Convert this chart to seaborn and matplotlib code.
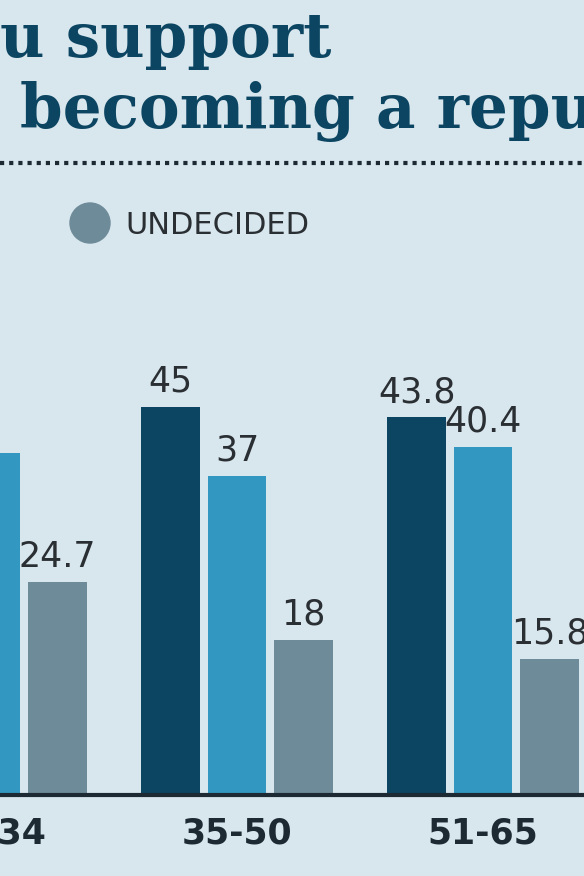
import matplotlib
matplotlib.use("Agg")
import matplotlib.pyplot as plt
import seaborn as sns
import pandas as pd

groups = ["18-34", "35-50", "51-65"]
series = ["YES", "NO", "UNDECIDED"]
yes_vals = [35.6, 45, 43.8]
no_vals = [39.7, 37, 40.4]
und_vals = [24.7, 18, 15.8]
colors = ["#0b4561", "#3398c1", "#6e8b99"]
bg = "#d8e6ee"

rows = []
for g, a, b, c in zip(groups, yes_vals, no_vals, und_vals):
    rows += [(g, "YES", a), (g, "NO", b), (g, "UNDECIDED", c)]
df = pd.DataFrame(rows, columns=["group", "answer", "value"])

sns.set_theme(style="white")
plt.rcParams['font.family'] = ['Liberation Sans Narrow', 'DejaVu Sans']

fig = plt.figure(figsize=(5.84, 8.76), dpi=100, facecolor=bg)
ax = fig.add_axes([0, 1 - 795/876, 1, 795/876])
ax.set_facecolor(bg)
sns.barplot(data=df, x="group", y="value", hue="answer", hue_order=series,
            palette=colors, width=0.81, gap=0.12, ax=ax, legend=False,
            saturation=1, linewidth=0, edgecolor="none")
ax.set_xlim(9/246, 9/246 + 584/246)
ax.set_ylim(0, 795/8.62)
for s in ax.spines.values():
    s.set_visible(False)
ax.axhline(0, color="#1d2a33", lw=3, clip_on=False)
ax.set_yticks([])
ax.set_xticks([])
ax.set_xlabel(""); ax.set_ylabel("")
for i, g in enumerate(groups):
    ax.text(i, -4.5, g, ha="center", va="center", fontsize=25, fontweight="bold",
            color="#1d2a33", clip_on=False)
for cont in ax.containers:
    ax.bar_label(cont, labels=[f"{v:g}" for v in cont.datavalues], padding=6,
                 fontsize=25, color="#2a2f33")

fig.text(0.0, 876-40, "u support", transform=None, fontsize=44, fontweight="bold",
         family="DejaVu Serif", color="#0b4561", va="center")
fig.text(20, 876-112, "becoming a republic?", transform=None, fontsize=44, fontweight="bold",
         family="DejaVu Serif", color="#0b4561", va="center")
fig.add_artist(plt.Line2D([0, 1], [1-163/876]*2, color="#1d2a33", lw=3,
                          linestyle=(0, (1, 1.2)), transform=fig.transFigure))
fig.add_artist(matplotlib.patches.Circle((90, 876-223), 20, color=colors[2], transform=None))
fig.text(125, 876-225, "UNDECIDED", transform=None, fontsize=22, color="#2a2f33", va="center")

fig.savefig("out.png", dpi=100, facecolor=bg)
